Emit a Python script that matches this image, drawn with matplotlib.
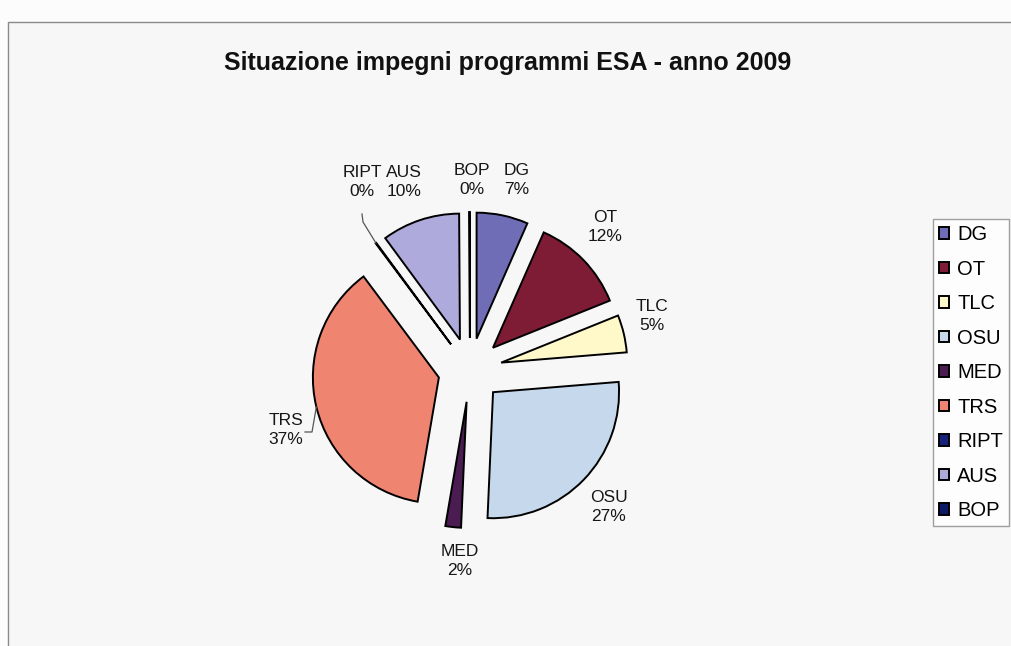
import numpy as np
import matplotlib
matplotlib.use("Agg")
import matplotlib.pyplot as plt
from matplotlib.patches import Rectangle

# ---- data ----
categories = ["DG", "OT", "TLC", "OSU", "MED", "TRS", "RIPT", "AUS", "BOP"]
values = [6.6, 12.3, 4.8, 27.0, 2.0, 37.1, 0.1, 10.0, 0.1]
pct_labels = ["7%", "12%", "5%", "27%", "2%", "37%", "0%", "10%", "0%"]
colors = ["#6f6db6", "#7e1c36", "#fff9c9", "#c6d9ec", "#4a1c52",
          "#ef8471", "#17217a", "#aeabdc", "#0c1a66"]
title = "Situazione impegni programmi ESA - anno 2009"

# label text positions (pixel coords, x right / y down)
label_pos = {"DG": (517, 180), "OT": (605, 227), "TLC": (652, 316),
             "OSU": (609, 507), "MED": (460, 561), "TRS": (286, 430),
             "RIPT": (362, 182), "AUS": (404, 182), "BOP": (472, 180)}

W, H = 1012, 646
plt.rcParams['font.family'] = ['Liberation Sans', 'DejaVu Sans']
fig = plt.figure(figsize=(W / 100, H / 100), dpi=100)
fig.patch.set_facecolor("#fcfcfc")
ax = fig.add_axes([0, 0, 1, 1])

def py(y):
    return H - y

# chart area
ax.add_patch(Rectangle((8, -10), 1030, py(22) + 10, facecolor="#f7f7f7",
                       edgecolor="#8a8a8a", linewidth=1.0, zorder=0))

cx, cy, r = 470, py(370), 126
explode = [32] * len(values)
wedges, _ = ax.pie(values, explode=explode, center=(cx, cy), radius=r,
                   startangle=90, counterclock=False, colors=colors,
                   wedgeprops=dict(edgecolor="black", linewidth=1.4),
                   normalize=True)
ax.set_xlim(0, W)
ax.set_ylim(0, H)
ax.set_aspect("equal")
ax.axis("off")

fs = 12.5
for name, pct in zip(categories, pct_labels):
    x, y = label_pos[name]
    ax.text(x, py(y), f"{name}\n{pct}", ha="center", va="center",
            fontsize=fs, color="#161616", linespacing=1.4)

# leader lines starting at the arc mid-point of the wedge
def arc_mid(w):
    th = np.deg2rad((w.theta1 + w.theta2) / 2)
    return w.center[0] + w.r * np.cos(th), w.center[1] + w.r * np.sin(th)

w_trs = wedges[categories.index("TRS")]
x0, y0 = arc_mid(w_trs)
lx, ly = label_pos["TRS"]
ax.plot([x0, lx + 26, lx + 19], [y0, py(ly + 2), py(ly + 2)],
        color="#555555", lw=0.9)

w_ript = wedges[categories.index("RIPT")]
x0, y0 = arc_mid(w_ript)
lx, ly = label_pos["RIPT"]
ax.plot([x0, lx + 1, lx], [y0, py(ly + 40), py(ly + 32)],
        color="#555555", lw=0.9)

fig.text(508 / W, 1 - 63 / H, title, ha="center", va="center",
         fontsize=18, fontweight="bold", color="#111111")

leg = fig.legend(wedges, categories, loc="upper left",
                 bbox_to_anchor=(933 / W, 1 - 219 / H), borderaxespad=0,
                 fontsize=14.5, handlelength=0.5, handleheight=0.5,
                 handletextpad=0.4, labelspacing=0.77, borderpad=0.3,
                 frameon=True, fancybox=False, edgecolor="#888888")
leg.get_frame().set_linewidth(1.0)
leg.get_frame().set_facecolor("white")

fig.savefig("out.png", dpi=100, facecolor=fig.get_facecolor())
